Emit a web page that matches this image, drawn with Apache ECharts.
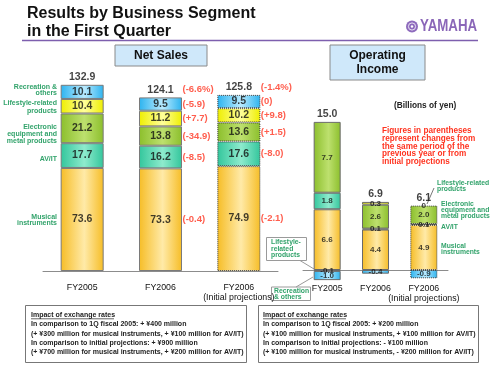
<!DOCTYPE html>
<html>
<head>
<meta charset="utf-8">
<script src="https://cdn.jsdelivr.net/npm/echarts@6/dist/echarts.min.js"></script>
<style>
  html, body { margin: 0; padding: 0; background: #fff; }
  #chart { width: 500px; height: 375px; }
</style>
</head>
<body>
<div id="chart"></div>
<script>
// categories
const salesCats = ['FY2005', 'FY2006', 'FY2006\n(Initial projections)'];
const incomeCats = ['FY2005', 'FY2006', 'FY2006\n(Initial projections)'];

// net sales, billions of yen (stack order: bottom to top)
const salesMusical = [73.6, 73.3, 74.9];
const salesAvit = [17.7, 16.2, 17.6];
const salesElectronic = [21.2, 13.8, 13.6];
const salesLifestyle = [10.4, 11.2, 10.2];
const salesRecreation = [10.1, 9.5, 9.5];
const salesTotal = [132.9, 124.1, 125.8];

// changes vs previous year / initial projections
const chgTotal = [null, -6.6, -1.4];       // percent
const chgMusical = [null, -0.4, -2.1];
const chgAvit = [null, -8.5, -8.0];
const chgElectronic = [null, -34.9, 1.5];
const chgLifestyle = [null, 7.7, 9.8];
const chgRecreation = [null, -5.9, 0];

// operating income, billions of yen
const incMusical = [6.6, 4.4, 4.9];
const incAvit = [1.8, 0.1, 0.1];
const incElectronic = [7.7, 2.6, 2.0];
const incLifestyle = [-0.1, 0.3, 0];
const incRecreation = [-1.0, -0.4, -0.9];
const incTotal = [15.0, 6.9, 6.1];

const FONT = "'Liberation Sans', Arial, sans-serif";
const GREEN = '#32a36b';
const RED = '#ff3420';

function grad(edge, mid) {
  return new echarts.graphic.LinearGradient(0, 0, 1, 0, [
    {offset: 0, color: edge}, {offset: 0.55, color: mid}, {offset: 1, color: edge}
  ]);
}
const fills = [
  grad('#f6bd26', '#ffeaa8'),   // musical
  grad('#33c69c', '#8eebcd'),   // AV/IT
  grad('#8cbf2c', '#bde06e'),   // electronic
  grad('#eeee00', '#ffff9a'),   // lifestyle
  grad('#2cb3ef', '#b8eaff')    // recreation
];

const salesCols = [salesMusical, salesAvit, salesElectronic, salesLifestyle, salesRecreation];
const incomeCols = [incMusical, incAvit, incElectronic, incLifestyle, incRecreation];
const salesChgCols = [chgMusical, chgAvit, chgElectronic, chgLifestyle, chgRecreation];

// segment extents, same-sign stacking (zero sits on top of positives)
function stackSpans(cols) {
  const spans = cols.map(() => []);
  for (let i = 0; i < cols[0].length; i++) {
    let pos = 0, neg = 0;
    cols.forEach((c, s) => {
      const v = c[i];
      if (v < 0) { spans[s][i] = [neg, neg + v]; neg += v; }
      else { spans[s][i] = [pos, pos + v]; pos += v; }
    });
  }
  return spans;
}
function posTop(cols, i) {
  return cols.reduce((a, c) => a + (c[i] > 0 ? c[i] : 0), 0);
}
const fmt = v => v === 0 ? '0' : v.toFixed(1);
const fmtChg = (v, pct) => '(' + (v > 0 ? '+' : '') + (v === 0 ? '0' : v.toFixed(1)) + (pct ? '%' : '') + ')';

function barSeries(cols, axis, width, border) {
  return cols.map((col, s) => ({
    type: 'bar', stack: 'st' + axis, xAxisIndex: axis, yAxisIndex: axis,
    barWidth: width, silent: true,
    data: col.map((v, i) => ({
      value: v,
      itemStyle: {
        color: fills[s],
        borderColor: i === 2 ? '#3a3a3a' : border,
        borderWidth: v === 0 ? 0 : 1,
        borderType: i === 2 ? 'dotted' : 'solid'
      }
    }))
  }));
}

function valueLabels(cols, axis, size) {
  const spans = stackSpans(cols);
  const data = [];
  cols.forEach((col, s) => col.forEach((v, i) => {
    data.push({value: [i, (spans[s][i][0] + spans[s][i][1]) / 2], label: {formatter: fmt(v)}});
  }));
  return {
    type: 'scatter', xAxisIndex: axis, yAxisIndex: axis, symbolSize: 0, silent: true, z: 5,
    label: {show: true, position: 'inside', color: '#111', fontSize: size, fontWeight: 'bold', fontFamily: FONT},
    data: data
  };
}

function totalLabels(cols, totals, axis) {
  return {
    type: 'scatter', xAxisIndex: axis, yAxisIndex: axis, symbolSize: 0, silent: true, z: 5,
    label: {show: true, position: 'top', distance: 2, color: '#111', fontSize: 10.5, fontWeight: 'bold', fontFamily: FONT},
    data: totals.map((t, i) => ({value: [i, posTop(cols, i)], label: {formatter: t.toFixed(1)}}))
  };
}

function changeLabels() {
  const spans = stackSpans(salesCols);
  const data = [];
  chgTotal.forEach((v, i) => {
    if (v === null) return;
    data.push({value: [i, posTop(salesCols, i)], label: {formatter: fmtChg(v, true), offset: [0, -8]}});
  });
  salesChgCols.forEach((col, s) => col.forEach((v, i) => {
    if (v === null) return;
    data.push({value: [i, (spans[s][i][0] + spans[s][i][1]) / 2], label: {formatter: fmtChg(v, false)}});
  }));
  return {
    type: 'scatter', xAxisIndex: 0, yAxisIndex: 0, symbolSize: 0, silent: true, z: 5,
    label: {show: true, position: 'right', distance: 22, color: RED, fontSize: 9.5, fontWeight: 'bold', fontFamily: FONT},
    data: data
  };
}

function txt(x, y, text, size, color, extra) {
  return {
    type: 'text', x: x, y: y, silent: true,
    style: Object.assign({
      text: text, font: 'bold ' + size + 'px ' + FONT, fill: color,
      align: 'left', verticalAlign: 'middle'
    }, extra || {})
  };
}
function box(x, y, w, h, fill, stroke) {
  return {type: 'rect', silent: true, shape: {x: x, y: y, width: w, height: h},
    style: {fill: fill, stroke: stroke, lineWidth: 1}};
}
function line(x1, y1, x2, y2, color, w) {
  return {type: 'line', silent: true, shape: {x1: x1, y1: y1, x2: x2, y2: y2},
    style: {stroke: color, lineWidth: w || 1}};
}

const noteLeft = 'Impact of exchange rates\n' +
  'In comparison to 1Q fiscal 2005: + ¥400 million\n' +
  '(+ ¥300 million for musical instruments, + ¥100 million for AV/IT)\n' +
  'In comparison to initial projections: + ¥900 million\n' +
  '(+ ¥700 million for musical instruments, + ¥200 million for AV/IT)';
const noteRight = 'Impact of exchange rates\n' +
  'In comparison to 1Q fiscal 2005: + ¥200 million\n' +
  '(+ ¥100 million for musical instruments, + ¥100 million for AV/IT)\n' +
  'In comparison to initial projections: - ¥100 million\n' +
  '(+ ¥100 million for musical instruments, - ¥200 million for AV/IT)';

const graphics = [
  txt(27, 13.7, 'Results by Business Segment', 16, '#111'),
  txt(27, 31.5, 'in the First Quarter', 16, '#111'),
  line(22, 40.5, 478, 40.5, '#7e5fae', 1.5),
  {type: 'circle', silent: true, shape: {cx: 412, cy: 26.5, r: 6}, style: {fill: '#8e6bbd'}},
  {type: 'circle', silent: true, shape: {cx: 412, cy: 26.5, r: 3.6}, style: {fill: 'none', stroke: '#fff', lineWidth: 0.8}},
  {type: 'circle', silent: true, shape: {cx: 412, cy: 26.5, r: 1.2}, style: {fill: '#fff'}},
  Object.assign(txt(420, 27, 'YAMAHA', 16, '#8a66b8'), {scaleX: 0.83}),

  box(115, 45, 92, 21, '#cfe8fa', '#8a8a8a'),
  txt(161, 55.5, 'Net Sales', 12, '#111', {align: 'center'}),
  box(330, 45, 95, 35, '#cfe8fa', '#8a8a8a'),
  txt(377.5, 63, 'Operating\nIncome', 12, '#111', {align: 'center', lineHeight: 14}),

  // segment names, net sales
  txt(57, 90, 'Recreation &\nothers', 7, GREEN, {align: 'right', lineHeight: 6.8}),
  txt(57, 107, 'Lifestyle-related\nproducts', 7, GREEN, {align: 'right', lineHeight: 7.4}),
  txt(57, 134, 'Electronic\nequipment and\nmetal products', 7, GREEN, {align: 'right', lineHeight: 7}),
  txt(57, 159, 'AV/IT', 7, GREEN, {align: 'right'}),
  txt(57, 220, 'Musical\ninstruments', 7, GREEN, {align: 'right', lineHeight: 6.8}),

  // segment names, operating income
  txt(437, 186.3, 'Lifestyle-related\nproducts', 6.8, GREEN, {lineHeight: 6.2}),
  line(427, 204, 434, 188, '#555', 0.8),
  txt(441, 210, 'Electronic\nequipment and\nmetal products', 6.8, GREEN, {lineHeight: 6.2}),
  txt(441, 227, 'AV/IT', 6.8, GREEN),
  txt(441, 249, 'Musical\ninstruments', 6.8, GREEN, {lineHeight: 6.6}),

  // callouts
  box(266.5, 237.5, 40, 23, '#fff', '#9a9a9a'),
  line(300, 260.5, 314, 269, '#9a9a9a'),
  txt(271, 249, 'Lifestyle-\nrelated\nproducts', 6.8, GREEN, {lineHeight: 6.6}),
  box(271.5, 287, 39, 13.5, '#fff', '#9a9a9a'),
  line(296, 287, 313, 277, '#9a9a9a'),
  txt(274, 294, 'Recreation\n& others', 6.8, GREEN, {lineHeight: 6.4}),

  txt(394, 106, '(Billions of yen)', 8.3, '#222'),
  txt(382, 146.3, 'Figures in parentheses\nrepresent changes from\nthe same period of the\nprevious year or from\ninitial projections', 8.2, RED, {lineHeight: 7.6}),

  // exchange rate notes
  box(25.5, 305.5, 221, 57, '#fff', '#777'),
  txt(31, 310.6, noteLeft, 7, '#222', {verticalAlign: 'top', lineHeight: 9.2}),
  line(31, 318.8, 114, 318.8, '#222', 0.7),
  box(258.5, 305.5, 220, 57, '#fff', '#777'),
  txt(263, 310.6, noteRight, 7, '#222', {verticalAlign: 'top', lineHeight: 9.2}),
  line(263, 318.8, 346, 318.8, '#222', 0.7)
];

function catAxis(idx, cats, margin) {
  return {
    gridIndex: idx, type: 'category', data: cats,
    axisLine: {lineStyle: {color: '#8c8c8c', width: 1}},
    axisTick: {inside: true, length: 4, lineStyle: {color: '#8c8c8c'}},
    axisLabel: {interval: 0, color: '#111', fontSize: 8.8, fontFamily: FONT, lineHeight: 9.5, margin: margin}
  };
}

const chart = echarts.init(document.getElementById('chart'));
chart.setOption({
  animation: false,
  backgroundColor: '#fff',
  grid: [
    {left: 43, top: 75, width: 235, height: 196},
    {left: 303, top: 86, width: 145, height: 202.4}
  ],
  xAxis: [catAxis(0, salesCats, 12), catAxis(1, incomeCats, -4.4)],
  yAxis: [
    {gridIndex: 0, type: 'value', min: 0, max: 140, show: false},
    {gridIndex: 1, type: 'value', min: -2, max: 20, show: false}
  ],
  series: [].concat(
    barSeries(salesCols, 0, 43, '#7a7a7a'),
    barSeries(incomeCols, 1, 27, '#6a6a6a'),
    [valueLabels(salesCols, 0, 10.5), valueLabels(incomeCols, 1, 8),
     totalLabels(salesCols, salesTotal, 0), totalLabels(incomeCols, incTotal, 1),
     changeLabels()]
  ),
  graphic: graphics
});
</script>
</body>
</html>
